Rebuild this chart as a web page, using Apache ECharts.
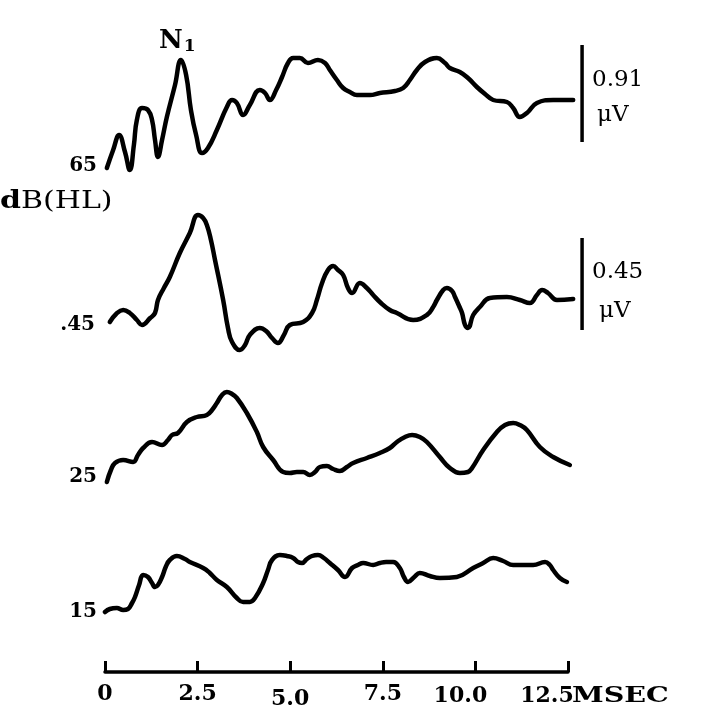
<!DOCTYPE html>
<html><head><meta charset="utf-8">
<script src="https://cdn.jsdelivr.net/npm/echarts@6/dist/echarts.min.js"></script>
<style>html,body{margin:0;padding:0;background:#fff;}#c{width:717px;height:710px;}</style>
</head><body><div id="c"></div>
<script>
// ---- data (time in ms, amplitude in display units relative to each trace baseline) ----
const t65 = [0.05,0.22,0.38,0.54,0.67,0.78,0.86,1.00,1.16,1.27,1.35,1.43,1.54,1.67,1.89,2.05,2.19,2.32,2.46,2.62,2.78,3.02,3.29,3.43,3.56,3.73,3.91,4.18,4.32,4.45,4.62,4.78,4.94,5.08,5.26,5.48,5.75,5.94,6.07,6.26,6.43,6.61,6.80,7.15,7.42,7.83,8.05,8.23,8.42,8.64,8.96,9.18,9.31,9.58,9.80,10.04,10.26,10.48,10.85,11.02,11.20,11.39,11.66,12.10,12.64];
const v65 = [-8,10,25,8,-10,15,40,52,50,40,20,3,20,43,75,100,85,50,25,7,12,30,53,60,57,45,55,70,67,60,70,83,97,102,102,97,100,97,90,80,72,68,65,65,67,69,72,80,90,98,102,97,92,88,82,73,66,60,58,52,43,47,57,60,60];

const t45 = [0.13,0.30,0.49,0.67,0.86,1.00,1.22,1.35,1.43,1.59,1.75,2.02,2.29,2.51,2.65,2.75,2.86,2.97,3.19,3.32,3.43,3.64,3.78,3.91,4.18,4.35,4.51,4.67,4.83,4.99,5.35,5.59,5.72,5.86,6.02,6.16,6.29,6.43,6.56,6.67,6.88,7.07,7.24,7.45,7.69,7.88,8.32,8.69,8.86,8.96,9.13,9.23,9.37,9.45,9.56,9.64,9.72,9.80,9.94,10.12,10.39,10.85,11.20,11.47,11.66,11.80,11.96,12.20,12.64];
const v45 = [-2,6,10,7,0,-5,2,7,20,32,43,67,87,105,102,95,80,60,20,-8,-22,-30,-25,-15,-8,-11,-18,-23,-15,-5,-2,7,20,37,50,54,50,45,32,27,37,32,25,17,10,7,0,5,13,20,30,32,29,23,14,7,-5,-8,5,13,22,23,20,17,25,30,27,20,21];

const t25 = [0.05,0.16,0.27,0.49,0.76,0.89,1.03,1.27,1.54,1.70,1.81,1.97,2.21,2.48,2.75,2.89,3.02,3.16,3.29,3.43,3.56,3.83,4.10,4.27,4.54,4.81,4.99,5.18,5.35,5.53,5.67,5.80,5.99,6.16,6.34,6.53,6.70,7.07,7.42,7.69,7.88,8.10,8.29,8.50,8.69,9.04,9.31,9.58,9.80,9.91,10.21,10.58,10.80,11.02,11.20,11.39,11.74,12.10,12.55];
const v25 = [-12,0,7,10,8,15,22,28,25,30,35,37,48,53,55,60,67,75,78,76,72,57,38,23,10,-2,-3,-2,-2,-5,-2,3,4,1,-1,3,7,12,17,22,28,33,35,33,28,13,2,-3,-2,2,20,38,45,47,45,40,23,13,5];

const t15 = [0.00,0.13,0.32,0.49,0.62,0.73,0.81,0.92,1.03,1.16,1.27,1.35,1.43,1.54,1.65,1.75,1.94,2.16,2.29,2.65,2.83,3.02,3.29,3.56,3.73,3.91,4.05,4.27,4.40,4.51,4.72,4.91,5.08,5.21,5.32,5.45,5.59,5.75,5.91,6.07,6.29,6.48,6.67,6.83,6.97,7.24,7.42,7.59,7.78,7.96,8.07,8.18,8.35,8.50,8.77,9.04,9.50,9.94,10.21,10.48,10.75,11.02,11.56,11.88,12.01,12.10,12.28,12.47];
const v15 = [-2,1,2,0,1,7,13,25,35,33,27,23,25,33,44,50,54,51,48,42,37,30,23,12,8,8,12,27,40,50,55,54,52,48,47,51,54,55,52,47,40,33,42,45,47,45,47,48,48,42,33,28,33,37,34,32,33,42,47,52,49,45,45,48,45,40,32,28];

const traceLabels = ['65', '.45', '25', '15'];
const xTicks = [0, 2.5, 5.0, 7.5, 10.0, 12.5];
const xTickText = ['0', '2.5', '5.0', '7.5', '10.0', '12.5'];
const scaleBarText = [['0.91', 'μV'], ['0.45', 'μV']];
// scale bar extents relative to trace baselines (display units)
const scaleBar65 = [18, 115];
const scaleBar45 = [-10, 82];

// ---- layout (not data) ----
const baselines = [513, 353, 203, 63];
const barX = 12.88;
const pxPerMs = 463 / 12.5;

function mk(t, v, off) { return t.map((x, i) => [x, v[i] + off]); }
const traces = [[t65, v65], [t45, v45], [t25, v25], [t15, v15]];

const series = traces.map((tv, i) => ({
  type: 'line', xAxisIndex: 1, yAxisIndex: 1,
  data: mk(tv[0], tv[1], baselines[i]), showSymbol: false, symbol: 'none',
  smooth: 0.45, silent: true,
  lineStyle: { color: '#000', width: 4.5, cap: 'round', join: 'round' }
}));
[[scaleBar65, 0], [scaleBar45, 1]].forEach(([bar, k]) => {
  series.push({ type: 'line', xAxisIndex: 1, yAxisIndex: 1,
    data: [[barX, bar[0] + baselines[k]], [barX, bar[1] + baselines[k]]],
    showSymbol: false, symbol: 'none', silent: true,
    lineStyle: { color: '#000', width: 3.5 } });
});

const chart = echarts.init(document.getElementById('c'), null, { renderer: 'canvas' });
const serifB = { fontFamily: 'DejaVu Serif', fontWeight: 'bold', color: '#000' };
const serif = { fontFamily: 'DejaVu Serif', color: '#000' };
chart.setOption({
  animation: false,
  backgroundColor: '#fff',
  grid: [
    { left: 105, right: 149, top: 0, bottom: 37, containLabel: false },
    { left: 105, width: pxPerMs * 14, top: 0, bottom: 37, containLabel: false }
  ],
  xAxis: [{
    type: 'value', gridIndex: 0, min: 0, max: 12.5, interval: 2.5,
    axisLine: { show: true, lineStyle: { color: '#000', width: 3.5 } },
    axisTick: { show: true, inside: true, length: 11, lineStyle: { color: '#000', width: 3 } },
    splitLine: { show: false },
    axisLabel: {
      margin: 11, showMinLabel: true, showMaxLabel: true,
      formatter: function (val) {
        const idx = xTicks.indexOf(val);
        const txt = idx >= 0 ? xTickText[idx] : '';
        if (val === 10) return '{s10|' + txt + '}';
        if (val === 12.5) return '{s12|' + txt + '}';
        if (val === 5) return '{lo|' + txt + '}';
        return '{n|' + txt + '}';
      },
      rich: {
        n: Object.assign({ fontSize: 22 }, serifB),
        lo: Object.assign({ fontSize: 22, padding: [5, 0, 0, 0] }, serifB),
        s10: Object.assign({ fontSize: 22, padding: [2, 30, 0, 0] }, serifB),
        s12: Object.assign({ fontSize: 22, padding: [2, 42, 0, 0] }, serifB)
      }
    }
  }, {
    type: 'value', gridIndex: 1, min: 0, max: 14, show: false
  }],
  yAxis: [
    { type: 'value', gridIndex: 0, min: 0, max: 673, show: false },
    { type: 'value', gridIndex: 1, min: 0, max: 673, show: false }
  ],
  graphic: [
    { type: 'text', x: 572, y: 696, scaleX: 1.3, style: { text: 'MSEC', font: 'bold 22px "DejaVu Serif"', verticalAlign: 'middle', fill: '#000' } },
    { type: 'text', x: 159, y: 28, style: { text: '{a|N}{b|1}', rich: { a: Object.assign({ fontSize: 26 }, serifB), b: Object.assign({ fontSize: 17, padding: [10, 0, 0, 1] }, serifB) } } },
    { type: 'text', x: 97, y: 166, style: { text: traceLabels[0], font: 'bold 20px "DejaVu Serif"', align: 'right', verticalAlign: 'middle', fill: '#000' } },
    { type: 'text', x: 0, y: 201, scaleX: 1.2, style: { text: '{a|d}{b|B(HL)}', verticalAlign: 'middle', rich: { a: Object.assign({ fontSize: 25 }, serifB), b: Object.assign({ fontSize: 25 }, serif) } } },
    { type: 'text', x: 95, y: 325, style: { text: traceLabels[1], font: 'bold 20px "DejaVu Serif"', align: 'right', verticalAlign: 'middle', fill: '#000' } },
    { type: 'text', x: 97, y: 477, style: { text: traceLabels[2], font: 'bold 20px "DejaVu Serif"', align: 'right', verticalAlign: 'middle', fill: '#000' } },
    { type: 'text', x: 97, y: 612, style: { text: traceLabels[3], font: 'bold 20px "DejaVu Serif"', align: 'right', verticalAlign: 'middle', fill: '#000' } },
    { type: 'text', x: 592, y: 80, style: { text: scaleBarText[0][0], font: '23px "DejaVu Serif"', verticalAlign: 'middle', fill: '#000' } },
    { type: 'text', x: 597, y: 115, style: { text: scaleBarText[0][1], font: '23px "DejaVu Serif"', verticalAlign: 'middle', fill: '#000' } },
    { type: 'text', x: 592, y: 272, style: { text: scaleBarText[1][0], font: '23px "DejaVu Serif"', verticalAlign: 'middle', fill: '#000' } },
    { type: 'text', x: 599, y: 311, style: { text: scaleBarText[1][1], font: '23px "DejaVu Serif"', verticalAlign: 'middle', fill: '#000' } }
  ],
  series: series
});
</script></body></html>
